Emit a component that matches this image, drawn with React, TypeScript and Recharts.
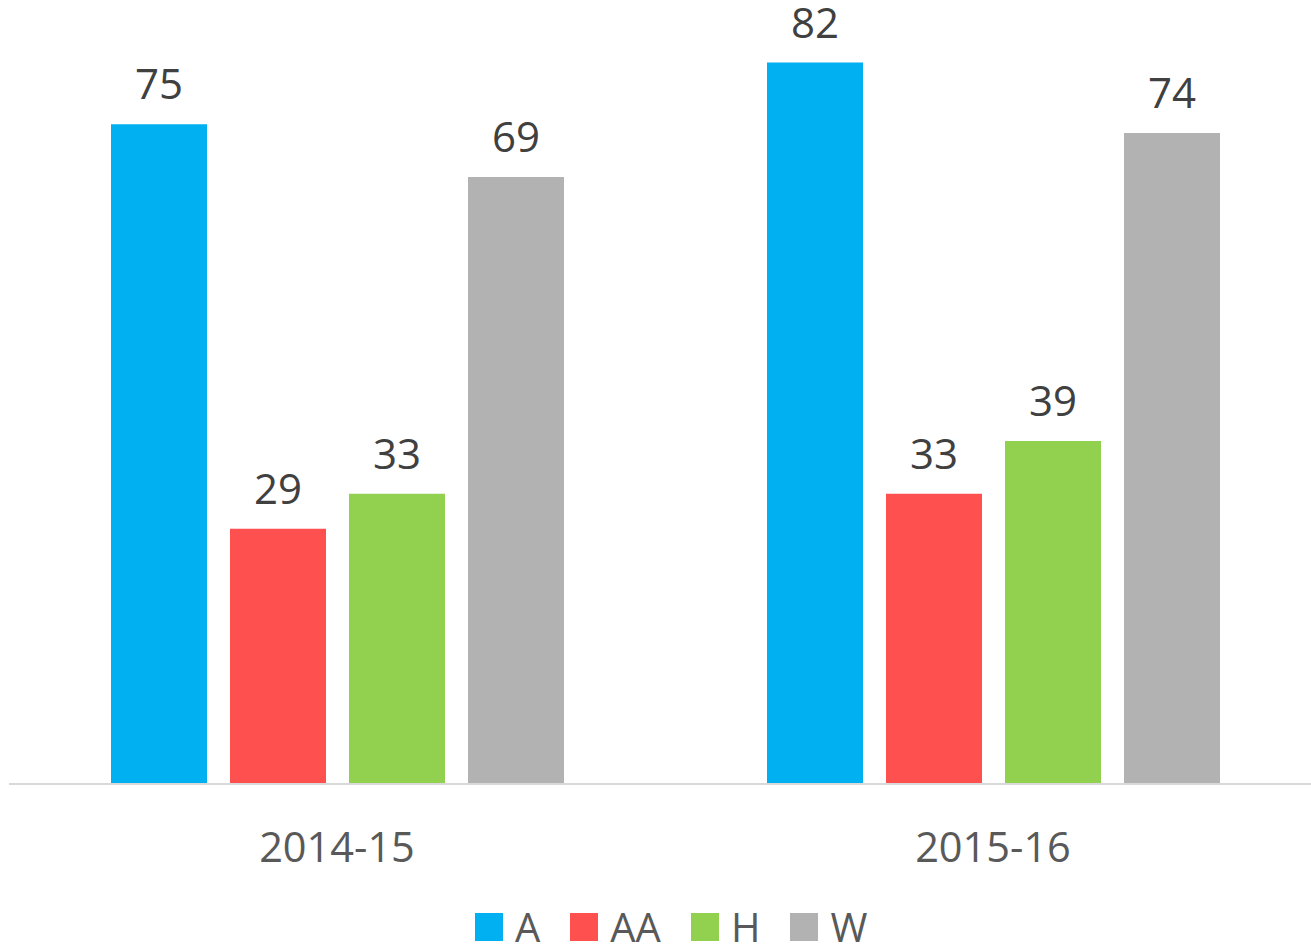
import { BarChart, Bar, XAxis, YAxis, LabelList } from "recharts";

const categories = ["2014-15", "2015-16"];
const seriesNames = ["A", "AA", "H", "W"];
const valuesA = [75, 82];
const valuesAA = [29, 33];
const valuesH = [33, 39];
const valuesW = [69, 74];

const colors = ["#00B0F0", "#FF5050", "#92D050", "#B2B2B2"];
const FONT = "'Open Sans', 'Noto Sans', sans-serif";

const seriesValues = [valuesA, valuesAA, valuesH, valuesW];

const data = categories.map((cat, i) => {
  const row: Record<string, string | number> = { category: cat };
  seriesNames.forEach((name, s) => {
    row[name] = seriesValues[s][i];
  });
  return row;
});

function CategoryTick(props: any) {
  const { x, y, payload } = props;
  return (
    <text
      x={x}
      y={y}
      dy={70}
      textAnchor="middle"
      fill="#595959"
      fontSize={41.5}
      fontFamily={FONT}
    >
      {payload.value}
    </text>
  );
}

export default function App() {
  return (
    <div
      style={{
        position: "absolute",
        left: 0,
        top: 0,
        width: 1311,
        height: 947,
        overflow: "hidden",
        background: "#fff",
        fontFamily: FONT,
      }}
    >
      <BarChart
        width={1321}
        height={947}
        data={data}
        margin={{ top: 1, right: 0, left: 9, bottom: 83 }}
        barSize={96}
        barGap={23}
      >
        <XAxis
          dataKey="category"
          height={80}
          tickLine={false}
          axisLine={{ stroke: "#D9D9D9", strokeWidth: 2 }}
          tick={<CategoryTick />}
          interval={0}
        />
        <YAxis hide domain={[0, 89]} />
        {seriesNames.map((name, s) => (
          <Bar key={name} dataKey={name} fill={colors[s]} isAnimationActive={false}>
            <LabelList
              dataKey={name}
              position="top"
              offset={25}
              fill="#404040"
              fontSize={42}
              fontFamily={FONT}
            />
          </Bar>
        ))}
      </BarChart>
      <div
        style={{
          position: "absolute",
          left: 475,
          top: 913,
          display: "flex",
          alignItems: "flex-start",
        }}
      >
        {seriesNames.map((name, s) => (
          <div key={name} style={{ display: "flex", alignItems: "flex-start", marginRight: 30 }}>
            <span
              style={{
                display: "inline-block",
                width: 28,
                height: 28,
                background: colors[s],
                marginRight: 12,
              }}
            />
            <span style={{ fontSize: 40, lineHeight: "28px", color: "#595959" }}>{name}</span>
          </div>
        ))}
      </div>
    </div>
  );
}
